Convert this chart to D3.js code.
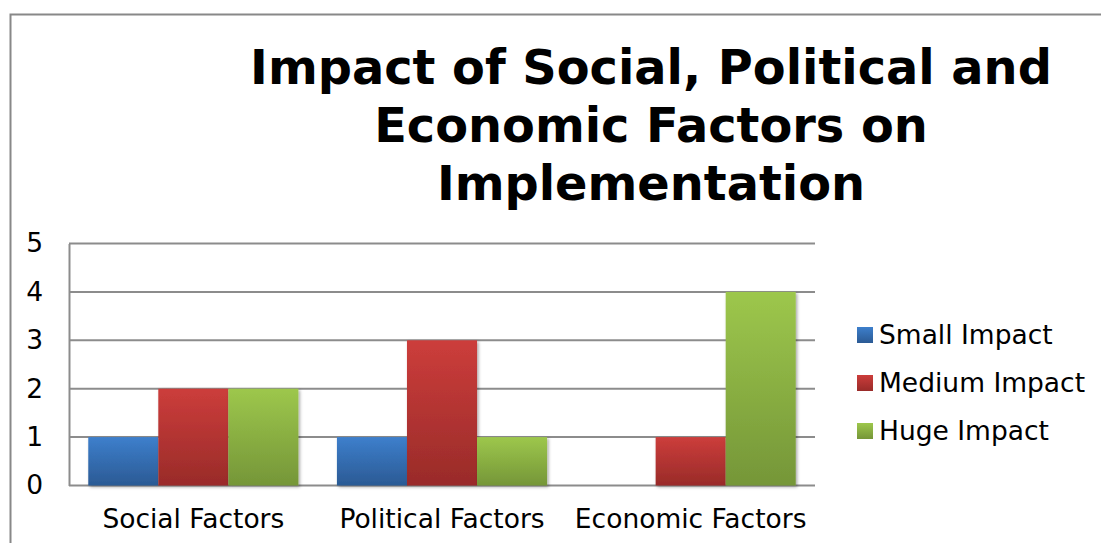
<!DOCTYPE html>
<html>
<head>
<meta charset="utf-8">
<script src="https://cdn.jsdelivr.net/npm/d3@7"></script>
<style>
  body { margin: 0; background: #fff; }
  svg { display: block; }
  text { font-family: "DejaVu Sans", Verdana, sans-serif; }
</style>
</head>
<body>
<div class="chart"></div>
<script>
// chart data
const categories = ["Social Factors", "Political Factors", "Economic Factors"];
const seriesNames = ["Small Impact", "Medium Impact", "Huge Impact"];
const smallImpact = [1, 1, 0];
const mediumImpact = [2, 3, 1];
const hugeImpact = [2, 1, 4];
const yTicks = [0, 1, 2, 3, 4, 5];
const titleLines = ["Impact of Social, Political and", "Economic Factors on", "Implementation"];

const width = 1101, height = 543;
const margin = { top: 243.5, right: 286, bottom: 57.5, left: 69 };
const labelSize = "26.5px";
const colors = [
  { top: "#3d7fcc", bottom: "#2b5a94" },
  { top: "#cc3d3b", bottom: "#992b29" },
  { top: "#9dc74c", bottom: "#759638" }
];

const values = [smallImpact, mediumImpact, hugeImpact];
const data = categories.map((c, i) => ({
  cat: c,
  vals: seriesNames.map((s, j) => ({ series: j, name: s, value: values[j][i] }))
}));

const svg = d3.select(".chart").append("svg")
  .attr("width", width)
  .attr("height", height);

const defs = svg.append("defs");
colors.forEach((c, i) => {
  const g = defs.append("linearGradient")
    .attr("id", "grad" + i)
    .attr("x1", 0).attr("y1", 0).attr("x2", 0).attr("y2", 1);
  g.append("stop").attr("offset", "0%").attr("stop-color", c.top);
  g.append("stop").attr("offset", "100%").attr("stop-color", c.bottom);
});
const shadow = defs.append("filter").attr("id", "shadow")
  .attr("x", "-10%").attr("y", "-10%").attr("width", "130%").attr("height", "130%");
shadow.append("feDropShadow")
  .attr("dx", 1.5).attr("dy", 1.5).attr("stdDeviation", 1.5)
  .attr("flood-color", "#000").attr("flood-opacity", 0.35);

// outer chart border (runs off the right and bottom of the picture)
svg.append("rect")
  .attr("x", 10.5).attr("y", 14.5)
  .attr("width", width + 20).attr("height", height + 20)
  .attr("fill", "none")
  .attr("stroke", "#888")
  .attr("stroke-width", 2);

// title
const title = svg.append("text")
  .attr("text-anchor", "middle")
  .style("font-weight", "bold")
  .style("font-size", "44px")
  .attr("fill", "#000");
titleLines.forEach((t, i) => {
  title.append("tspan")
    .attr("x", 651)
    .attr("y", 84 + i * 58)
    .text(t);
});
// fit line 1 to the width it has in the original
const w0 = title.select("tspan").node().getComputedTextLength();
title.style("font-size", (44 * 802 / w0) + "px");

const x0 = d3.scaleBand()
  .domain(categories)
  .range([margin.left, width - margin.right])
  .paddingInner(0.155)
  .paddingOuter(0.0775);

const x1 = d3.scaleBand()
  .domain(d3.range(seriesNames.length))
  .range([0, x0.bandwidth()]);

const y = d3.scaleLinear()
  .domain([0, 5])
  .range([height - margin.bottom, margin.top]);

// gridlines
svg.append("g")
  .selectAll("line")
  .data(yTicks)
  .join("line")
  .attr("x1", margin.left)
  .attr("x2", width - margin.right)
  .attr("y1", d => y(d))
  .attr("y2", d => y(d))
  .attr("stroke", "#8c8c8c")
  .attr("stroke-width", 2);

// y axis
const yAxis = svg.append("g")
  .attr("transform", `translate(${margin.left},0)`)
  .call(d3.axisLeft(y).tickValues(yTicks).tickSize(0).tickPadding(26).tickFormat(d3.format("d")));
yAxis.select(".domain").attr("stroke", "#8c8c8c").attr("stroke-width", 2);
yAxis.selectAll("text")
  .style("font-family", "'DejaVu Sans', Verdana, sans-serif")
  .style("font-size", labelSize)
  .attr("fill", "#000");

// bars
svg.append("g")
  .selectAll("g")
  .data(data)
  .join("g")
  .attr("transform", d => `translate(${x0(d.cat)},0)`)
  .selectAll("rect")
  .data(d => d.vals.filter(v => v.value > 0))
  .join("rect")
  .attr("x", d => x1(d.series))
  .attr("width", x1.bandwidth())
  .attr("y", d => y(d.value))
  .attr("height", d => y(0) - y(d.value))
  .attr("fill", d => `url(#grad${d.series})`)
  .attr("filter", "url(#shadow)");

// x axis labels
const xAxis = svg.append("g")
  .attr("transform", `translate(0,${height - margin.bottom})`)
  .call(d3.axisBottom(x0).tickSize(0).tickPadding(24));
xAxis.select(".domain").remove();
xAxis.selectAll("text")
  .style("font-family", "'DejaVu Sans', Verdana, sans-serif")
  .style("font-size", labelSize)
  .attr("fill", "#000");

// legend
const legend = svg.append("g")
  .attr("transform", "translate(857,327)")
  .selectAll("g")
  .data(seriesNames)
  .join("g")
  .attr("transform", (d, i) => `translate(0,${i * 48})`);
legend.append("rect")
  .attr("width", 16).attr("height", 16)
  .attr("fill", (d, i) => `url(#grad${i})`);
legend.append("text")
  .attr("x", 22)
  .attr("y", 8)
  .attr("dy", "0.35em")
  .style("font-size", labelSize)
  .attr("fill", "#000")
  .text(d => d);
</script>
</body>
</html>
